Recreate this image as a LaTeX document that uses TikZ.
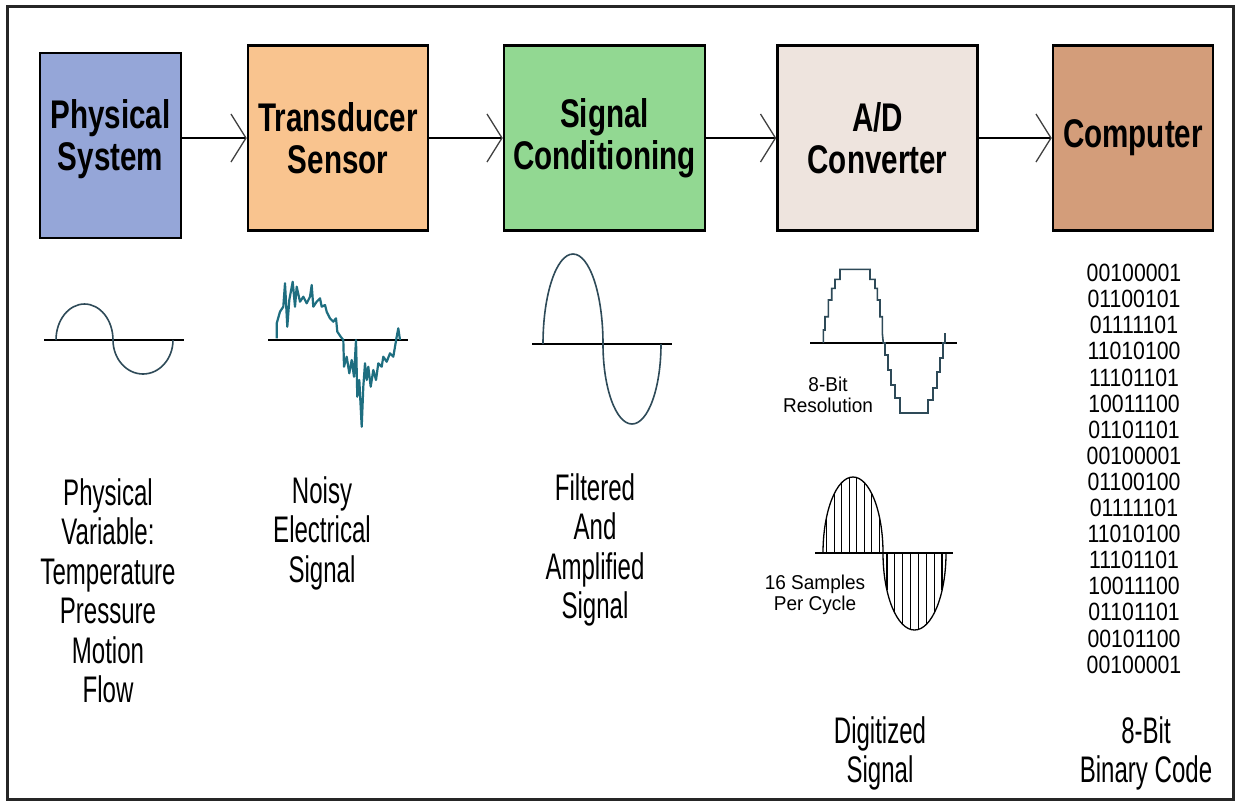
\documentclass[tikz,border=0pt]{standalone}
\usepackage{fontspec}
\setmainfont{Liberation Sans}[FakeStretch=0.65]
\newfontfamily\boxfont{Liberation Sans Bold}[FakeStretch=0.74]
\newfontfamily\digitfont{Liberation Sans}[FakeStretch=0.85]
\newfontfamily\smallfont{Liberation Sans}[FakeStretch=0.95]
\usetikzlibrary{arrows.meta}
\definecolor{cblue}{HTML}{95A6D8}
\definecolor{corange}{HTML}{F9C48F}
\definecolor{cgreen}{HTML}{92D892}
\definecolor{cbeige}{HTML}{EEE4DE}
\definecolor{cbrown}{HTML}{D39D7A}
\definecolor{wavec}{HTML}{2E4A58}
\definecolor{noisec}{HTML}{1E6E80}
\tikzset{
  blockbox/.style={draw=black, line width=2.5pt, minimum height=185pt, inner sep=0pt,
    font=\boxfont\fontsize{40}{42}\selectfont, align=center},
  boxtext/.style={font=\boxfont\fontsize{40}{42}\selectfont, align=center, inner sep=0pt},
  flow/.style={line width=2.5pt, -{Straight Barb[length=15pt,width=48pt,line width=1.3pt,color=black!75]}},
  axisline/.style={line width=2.5pt, black},
  wave/.style={line width=1.6pt, wavec},
  samp/.style={line width=1.3pt, black},
  lbl/.style={font=\fontsize{37}{39.5}\selectfont, align=center, inner sep=0pt, anchor=north},
  smalllbl/.style={font=\smallfont\fontsize{20}{21}\selectfont, align=center, inner sep=0pt, anchor=north},
  bits/.style={font=\digitfont\fontsize{25}{25}\selectfont, inner sep=0pt}
}
\begin{document}
\begin{tikzpicture}[x=1pt,y=-1pt]
\useasboundingbox (0,0) rectangle (1236,804);
\fill[white] (0,0) rectangle (1236,804);
\draw[line width=3pt, black!85] (7,6) rectangle (1233,799);

% blocks
\node[blockbox, fill=cblue, minimum width=141pt,
  label={[boxtext, yshift=6.5pt]center:{Physical\\System}}] (b1) at (110.5,145.5) {};
\node[blockbox, fill=corange, minimum width=180pt] (b2) at (338,138) {Transducer\\Sensor};
\node[blockbox, fill=cgreen, minimum width=201pt] (b3) at (604.5,138) {Signal\\Conditioning};
\node[blockbox, fill=cbeige, minimum width=200pt] (b4) at (877.5,138) {A/D\\Converter};
\node[blockbox, fill=cbrown, minimum width=160pt] (b5) at (1133,138) {Computer};

% arrows
\draw[flow] (b1.east |- b2.west) -- (b2.west);
\draw[flow] (b2.east) -- (b3.west);
\draw[flow] (b3.east) -- (b4.west);
\draw[flow] (b4.east) -- (b5.west);

% wave 1: physical variable
\draw[axisline] (44,340) -- (184,340);
\draw[wave] (56,340) arc[start angle=180,end angle=360,x radius=28.5,y radius=36]
  arc[start angle=180,end angle=0,x radius=30,y radius=34];

% wave 2: noisy signal
\draw[axisline] (268,340) -- (408,340);
\draw[line width=2.2pt, noisec, line join=round] (276.7,338.3) -- (276.7,323.3) -- (280,311.7) -- (283.3,306.7) -- (285,283.3) -- (287.3,326.7) -- (289.3,300) -- (292.7,281.7) -- (295,306.7) -- (296.7,286.7) -- (300,301.7) -- (303.3,296.7) -- (306.7,303.3) -- (310,296.7) -- (311.7,285) -- (313.3,306.7) -- (316.7,301.7) -- (320,298.3) -- (321.7,306.7) -- (325,305) -- (326.7,311.7) -- (330,318.3) -- (333.3,321.7) -- (336,318.3) -- (337.3,331.7) -- (340.7,336.7) -- (343.3,340) -- (344,366.7) -- (346.7,356.7) -- (349.3,373.3) -- (351.7,360) -- (354,376.7) -- (356,340) -- (357.3,396.7) -- (359.3,380) -- (361.7,426.7) -- (363.3,386.7) -- (365,363.3) -- (366.7,380) -- (368.3,366.7) -- (370.7,386.7) -- (373.3,370) -- (376,380) -- (378.3,363.3) -- (381.7,366.7) -- (383.3,356.7) -- (386.7,361.7) -- (390,353.3) -- (393.3,356.7) -- (396.7,336.7) -- (398.3,328.3) -- (400,340);

% wave 3: filtered and amplified
\draw[axisline] (532,344) -- (672,344);
\draw[wave] (543,344) arc[start angle=180,end angle=360,x radius=30,y radius=90]
  arc[start angle=180,end angle=0,x radius=29,y radius=80];

% wave 4: 8-bit staircase
\draw[axisline] (810,343) -- (957,343);
\draw[wave, line join=miter] (823.3,343) -- (823.3,330) -- (825,330) -- (825,316.7) -- (828.3,316.7) -- (828.3,300) -- (831.7,300) -- (831.7,288.3) -- (835,288.3) -- (835,279.3) -- (840,279.3) -- (840,269.3) -- (870,269.3) -- (870,279.3) -- (875,279.3) -- (875,288.3) -- (877.3,288.3) -- (877.3,300) -- (880,300) -- (880,316.7) -- (882.3,316.7) -- (882.3,333) -- (883.3,343)
  -- (885,343) -- (885,355) -- (888,355) -- (888,370) -- (891,370) -- (891,385) -- (895,385) -- (895,398) -- (900,398) -- (900,413) -- (928,413) -- (928,400) -- (933,400) -- (933,388) -- (937,388) -- (937,372) -- (940,372) -- (940,358) -- (943,358) -- (943,343) -- (945,343) -- (945,333);

% wave 5: sampled
\draw[axisline] (815,553) -- (953,553);
\draw[samp] (823,553) arc[start angle=180,end angle=360,x radius=30,y radius=76]
  arc[start angle=180,end angle=0,x radius=31.5,y radius=77];
\foreach \i in {0,...,7}{
  \pgfmathsetmacro{\xa}{823+60*(\i+0.5)/8}
  \pgfmathsetmacro{\ya}{553-76*sqrt(1-((\xa-853)/30)^2)}
  \draw[samp] (\xa,553) -- (\xa,\ya);
  \pgfmathsetmacro{\xb}{883+63*(\i+0.5)/8}
  \pgfmathsetmacro{\yb}{553+77*sqrt(1-((\xb-914.5)/31.5)^2)}
  \draw[samp] (\xb,553) -- (\xb,\yb);
}

% labels
\node[lbl] (l1) at (108,478) {Physical\\Variable:\\Temperature\\Pressure\\Motion\\Flow};
\node[lbl] (l2) at (322,476) {Noisy\\Electrical\\Signal};
\node[lbl] (l3) at (595,473) {Filtered\\And\\Amplified\\Signal};
\node[lbl] (l4) at (880,716) {Digitized\\Signal};
\node[lbl] (l5) at (1146,716) {8-Bit\\Binary Code};
\node[smalllbl] (s1) at (828,377) {8-Bit\\Resolution};
\node[smalllbl] (s2) at (815,575) {16 Samples\\Per Cycle};

% binary code
\foreach \t [count=\k from 0] in {00100001,01100101,01111101,11010100,11101101,10011100,01101101,00100001,01100100,01111101,11010100,11101101,10011100,01101101,00101100,00100001}{
  \node[bits] (bit\k) at (1134,{273+26.1*\k}) {\t};
}
\end{tikzpicture}
\end{document}
